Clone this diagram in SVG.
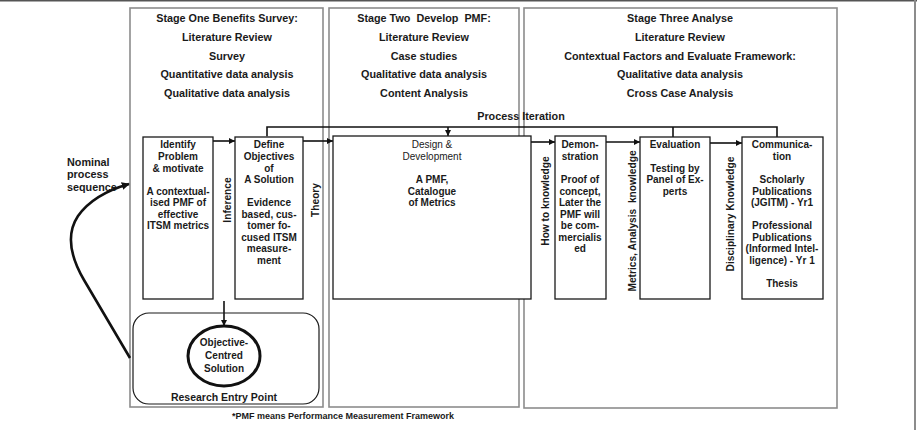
<svg xmlns="http://www.w3.org/2000/svg" width="917" height="430" viewBox="0 0 917 430">
  <defs>
    <style>
      text { font-family: "Liberation Sans", Arial, sans-serif; font-weight: bold; fill: #1a1a1a; }
      .hd { font-size: 10.8px; text-anchor: middle; }
      .bx { font-size: 10px; text-anchor: middle; }
      .vl { font-size: 10.2px; text-anchor: middle; white-space: pre; }
      .reg { font-weight: normal; }
      .panel { fill: none; stroke: #8c8c8c; stroke-width: 1.6; }
      .box { fill: #fff; stroke: #1a1a1a; stroke-width: 1.3; }
      .conn { fill: none; stroke: #111; stroke-width: 1.6; }
    </style>
    <marker id="ah" viewBox="0 0 10 10" refX="10" refY="5" markerWidth="6" markerHeight="6" markerUnits="userSpaceOnUse" orient="auto">
      <path d="M0,0 L10,5 L0,10 z" fill="#111"/>
    </marker>
    <marker id="ahBig" viewBox="0 0 10 10" refX="9" refY="5" markerWidth="8" markerHeight="8" markerUnits="userSpaceOnUse" orient="auto">
      <path d="M0,0 L10,5 L0,10 z" fill="#111"/>
    </marker>
  </defs>

  <rect width="917" height="430" fill="#fff"/>
  <!-- outer frame edges -->
  <line x1="0" y1="0.8" x2="917" y2="0.8" stroke="#555" stroke-width="1.6"/>
  <line x1="915" y1="0" x2="915" y2="430" stroke="#8c8c8c" stroke-width="2"/>

  <!-- stage panels -->
  <g id="stage-one">
    <rect class="panel" x="130" y="8" width="193" height="399"/>
    <text class="hd" x="227" y="22">Stage One Benefits Survey:</text>
    <text class="hd" x="227" y="41">Literature Review</text>
    <text class="hd" x="227" y="60">Survey</text>
    <text class="hd" x="227" y="78">Quantitative data analysis</text>
    <text class="hd" x="227" y="97">Qualitative data analysis</text>
  </g>
  <g id="stage-two">
    <rect class="panel" x="329" y="8" width="190" height="399"/>
    <text class="hd" x="424" y="22" style="white-space:pre">Stage Two  Develop  PMF:</text>
    <text class="hd" x="424" y="41">Literature Review</text>
    <text class="hd" x="424" y="60">Case studies</text>
    <text class="hd" x="424" y="78">Qualitative data analysis</text>
    <text class="hd" x="424" y="97">Content Analysis</text>
  </g>
  <g id="stage-three">
    <rect class="panel" x="524" y="8" width="313" height="400"/>
    <text class="hd" x="680" y="22">Stage Three Analyse</text>
    <text class="hd" x="680" y="41">Literature Review</text>
    <text class="hd" x="680" y="60">Contextual Factors and Evaluate Framework:</text>
    <text class="hd" x="680" y="78">Qualitative data analysis</text>
    <text class="hd" x="680" y="97">Cross Case Analysis</text>
  </g>

  <!-- connectors -->
  <g id="connectors">
    <text class="hd" x="521" y="120">Process Iteration</text>
    <polyline class="conn" points="267,136 267,127 777,127 777,137" marker-start="url(#ah)"/>
    <line class="conn" x1="448" y1="127" x2="448" y2="136" marker-end="url(#ah)"/>
    <line class="conn" x1="673" y1="127" x2="673" y2="137"/>
    <line class="conn" x1="213" y1="141" x2="235" y2="141" marker-end="url(#ah)"/>
    <line class="conn" x1="303" y1="141" x2="333" y2="141" marker-end="url(#ah)"/>
    <line class="conn" x1="531" y1="142" x2="555" y2="142" marker-end="url(#ah)"/>
    <line class="conn" x1="606" y1="142" x2="640" y2="142" marker-end="url(#ah)"/>
    <line class="conn" x1="710" y1="143" x2="742" y2="143" marker-end="url(#ah)"/>
    <line class="conn" x1="224" y1="301" x2="224" y2="326" marker-end="url(#ah)"/>
    <path d="M130,358 L84,280 C70,256 66,234 78,216 C90,199 108,190 129,184" fill="none" stroke="#111" stroke-width="2.6" marker-end="url(#ahBig)"/>
  </g>

  <!-- process nodes -->
  <g id="identify-problem">
    <rect class="box" x="143" y="137" width="70" height="162"/>
    <text class="bx" x="178" y="148">Identify</text>
    <text class="bx" x="178" y="160">Problem</text>
    <text class="bx" x="178" y="172">&amp; motivate</text>
    <text class="bx" x="178" y="195">A contextual-</text>
    <text class="bx" x="178" y="206">ised PMF of</text>
    <text class="bx" x="178" y="218">effective</text>
    <text class="bx" x="178" y="229">ITSM metrics</text>
  </g>
  <g id="define-objectives">
    <rect class="box" x="235" y="137" width="68" height="162"/>
    <text class="bx" x="269" y="148">Define</text>
    <text class="bx" x="269" y="160">Objectives</text>
    <text class="bx" x="269" y="172">of</text>
    <text class="bx" x="269" y="183">A Solution</text>
    <text class="bx" x="269" y="206">Evidence</text>
    <text class="bx" x="269" y="218">based, cus-</text>
    <text class="bx" x="269" y="229">tomer fo-</text>
    <text class="bx" x="269" y="241">cused ITSM</text>
    <text class="bx" x="269" y="252">measure-</text>
    <text class="bx" x="269" y="264">ment</text>
  </g>
  <g id="design-development">
    <rect class="box" x="333" y="136" width="198" height="163"/>
    <text class="bx reg" x="432" y="148">Design &amp;</text>
    <text class="bx reg" x="432" y="160">Development</text>
    <text class="bx" x="432" y="183">A PMF,</text>
    <text class="bx" x="432" y="195">Catalogue</text>
    <text class="bx" x="432" y="206">of Metrics</text>
  </g>
  <g id="demonstration">
    <rect class="box" x="555" y="136" width="51" height="163"/>
    <text class="bx" x="580" y="148">Demon-</text>
    <text class="bx" x="580" y="160">stration</text>
    <text class="bx" x="580" y="183">Proof of</text>
    <text class="bx" x="580" y="195">concept,</text>
    <text class="bx" x="580" y="206">Later the</text>
    <text class="bx" x="580" y="218">PMF will</text>
    <text class="bx" x="580" y="229">be com-</text>
    <text class="bx" x="580" y="241">mercialis</text>
    <text class="bx" x="580" y="252">ed</text>
  </g>
  <g id="evaluation">
    <rect class="box" x="640" y="137" width="70" height="162"/>
    <text class="bx" x="675" y="148">Evaluation</text>
    <text class="bx" x="675" y="172">Testing by</text>
    <text class="bx" x="675" y="183">Panel of Ex-</text>
    <text class="bx" x="675" y="195">perts</text>
  </g>
  <g id="communication">
    <rect class="box" x="742" y="137" width="81" height="162"/>
    <text class="bx" x="782" y="148">Communica-</text>
    <text class="bx" x="782" y="160">tion</text>
    <text class="bx" x="782" y="183">Scholarly</text>
    <text class="bx" x="782" y="195">Publications</text>
    <text class="bx" x="782" y="206">(JGITM) - Yr1</text>
    <text class="bx" x="782" y="229">Professional</text>
    <text class="bx" x="782" y="241">Publications</text>
    <text class="bx" x="782" y="252">(Informed Intel-</text>
    <text class="bx" x="782" y="264">ligence) - Yr 1</text>
    <text class="bx" x="782" y="287">Thesis</text>
  </g>

  <!-- knowledge flow labels between nodes -->
  <g id="flow-labels">
    <text class="vl" transform="translate(231,200) rotate(-90)">Inference</text>
    <text class="vl" transform="translate(319,200) rotate(-90)">Theory</text>
    <text class="vl" transform="translate(549,201) rotate(-90)">How to knowledge</text>
    <text class="vl" transform="translate(636,221) rotate(-90)">Metrics, Analysis  knowledge</text>
    <text class="vl" transform="translate(734,214) rotate(-90)">Disciplinary Knowledge</text>
  </g>

  <g id="nominal-sequence">
    <text style="font-size:10.8px" x="67" y="166">Nominal</text>
    <text style="font-size:10.8px" x="67" y="178">process</text>
    <text style="font-size:10.8px" x="67" y="191">sequence</text>
  </g>

  <g id="research-entry-point">
    <rect x="133" y="313" width="186" height="91" rx="16" ry="16" fill="none" stroke="#1a1a1a" stroke-width="1.2"/>
    <ellipse cx="224" cy="356" rx="36" ry="30" fill="#fff" stroke="#111" stroke-width="3"/>
    <text class="bx" x="224" y="346">Objective-</text>
    <text class="bx" x="224" y="359">Centred</text>
    <text class="bx" x="224" y="372">Solution</text>
    <text class="bx" style="font-size:10.5px" x="224" y="401">Research Entry Point</text>
  </g>

  <text id="footnote" style="font-size:9px" x="232" y="419">*PMF means Performance Measurement Framework</text>
</svg>
